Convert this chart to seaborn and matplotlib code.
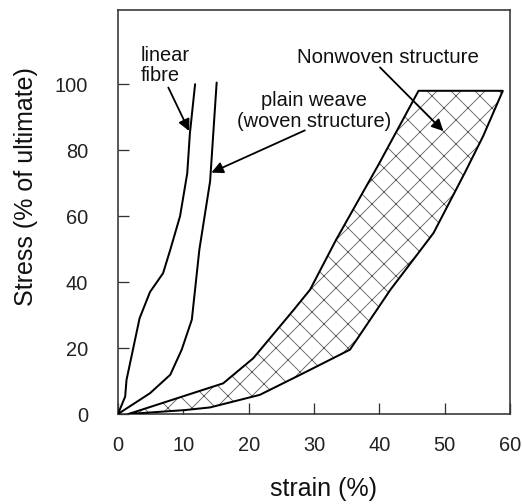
import numpy as np
import pandas as pd
import matplotlib
matplotlib.use("Agg")
import matplotlib.pyplot as plt
import seaborn as sns

# ── Data ──────────────────────────────────────────────────────────────────────
fibre_strain = [0.0, 1.1, 1.3, 3.3, 4.9, 6.9, 8.0, 9.5, 10.6, 11.0, 11.8]
fibre_stress = [0.0, 5.3, 10.3, 29.0, 37.0, 42.7, 49.8, 60.0, 73.0, 85.0, 100.0]

weave_strain = [0.0, 4.9, 8.0, 9.75, 11.3, 12.45, 14.1, 15.1]
weave_stress = [0.0, 6.3, 11.9, 19.5, 28.6, 49.8, 70.6, 100.5]

# nonwoven band: upper (left) boundary, then lower (right) boundary
nw_upper_strain = [1.6, 16.1, 20.7, 26.9, 29.4, 33.4, 39.9, 46.0]
nw_upper_stress = [0.0, 9.3, 16.9, 31.6, 37.7, 52.9, 75.7, 98.0]
nw_lower_strain = [1.6, 10.3, 14.1, 21.7, 27.9, 35.5, 41.7, 45.2, 48.3, 53.1, 55.9, 58.9]
nw_lower_stress = [0.0, 1.2, 2.0, 5.8, 11.9, 19.5, 37.7, 46.8, 54.9, 73.2, 84.3, 98.0]

x_ticks = [0, 10, 20, 30, 40, 50, 60]
y_ticks = [0, 20, 40, 60, 80, 100]

# ── Style ─────────────────────────────────────────────────────────────────────
sns.set_theme(style="ticks")
plt.rcParams["font.family"] = ["Liberation Sans", "DejaVu Sans"]
plt.rcParams["hatch.linewidth"] = 0.8

fig = plt.figure(figsize=(522 / 72, 504 / 72), dpi=72)
ax = fig.add_axes([118 / 522, 90 / 504, 392 / 522, 404 / 504])

# ── Nonwoven band (hatched) ───────────────────────────────────────────────────
band_x = nw_upper_strain + nw_lower_strain[::-1]
band_y = nw_upper_stress + nw_lower_stress[::-1]
ax.fill(band_x, band_y, facecolor="white", edgecolor="#555555",
        hatch="x", linewidth=0, zorder=1)

curves = pd.concat([
    pd.DataFrame({"strain": fibre_strain, "stress": fibre_stress, "curve": "fibre"}),
    pd.DataFrame({"strain": weave_strain, "stress": weave_stress, "curve": "weave"}),
    pd.DataFrame({"strain": band_x + band_x[:1], "stress": band_y + band_y[:1],
                  "curve": "nonwoven"}),
])
sns.lineplot(data=curves, x="strain", y="stress", units="curve", estimator=None,
             sort=False, color="black", linewidth=2, ax=ax, zorder=3)

# ── Annotations ───────────────────────────────────────────────────────────────
arrow = dict(arrowstyle="-|>", color="black", lw=1.8, mutation_scale=24,
             shrinkA=0, shrinkB=0)
ax.text(3.5, 105.6, "linear\nfibre", fontsize=20, ha="left", va="center",
        linespacing=1.1, color="#111111")
ax.annotate("", xy=(10.9, 85.8), xytext=(7.7, 99), arrowprops=arrow)

ax.text(30.0, 91.8, "plain weave\n(woven structure)", fontsize=20, ha="center",
        va="center", linespacing=1.1, color="#111111")
ax.annotate("", xy=(14.3, 73.2), xytext=(28.6, 86.0), arrowprops=arrow)

ax.text(41.3, 108.2, "Nonwoven structure", fontsize=20.5, ha="center",
        va="center", color="#111111")
ax.annotate("", xy=(49.8, 85.8), xytext=(40.1, 105.1), arrowprops=arrow)

# ── Axes ──────────────────────────────────────────────────────────────────────
ax.set_xlim(0, 60)
ax.set_ylim(0, 122.5)
ax.set_xticks(x_ticks)
ax.set_yticks(y_ticks)
ax.tick_params(direction="in", length=11, width=1.3, color="#333333",
               labelsize=20, labelcolor="#222222")
ax.tick_params(axis="x", pad=22)
ax.tick_params(axis="y", pad=30)
for s in ax.spines.values():
    s.set_visible(True)
    s.set_linewidth(1.6)
    s.set_color("#333333")

ax.set_xlabel("strain (%)", fontsize=25, color="#111111")
ax.set_ylabel("Stress (% of ultimate)", fontsize=25, color="#111111")
ax.xaxis.set_label_coords(0.523, -0.157)
ax.yaxis.set_label_coords(-0.205, 0.564)
if ax.get_legend() is not None:
    ax.get_legend().remove()

fig.savefig("out.png", dpi=72)
